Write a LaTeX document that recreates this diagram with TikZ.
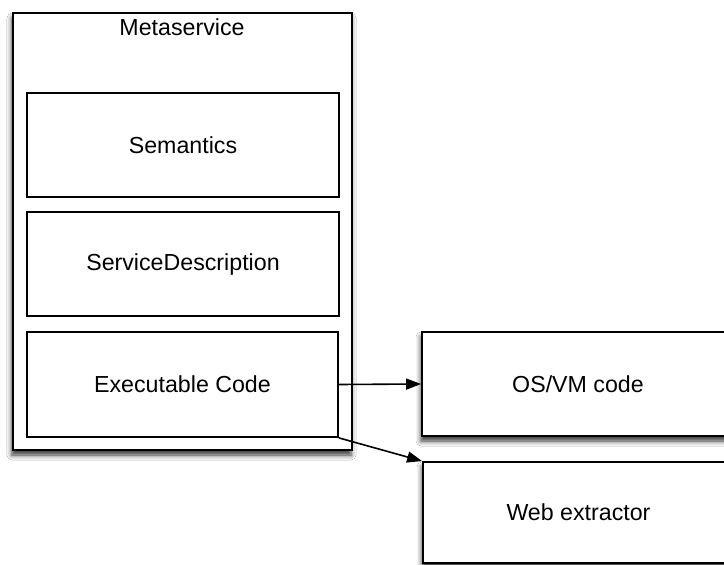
\documentclass[tikz,border=0pt]{standalone}
\usepackage{fontspec}
\setmainfont{Liberation Sans}
\usetikzlibrary{shadows.blur,arrows.meta}
\tikzset{
  box/.style={draw=black, line width=1.8pt, fill=white, rectangle, inner sep=0pt,
    font=\fontsize{23.2}{27}\selectfont},
  shadowbox/.style={box, blur shadow={shadow xshift=-1pt, shadow yshift=-5pt, shadow blur radius=5pt, shadow opacity=80}},
  lbl/.style={inner sep=0pt, font=\fontsize{23.2}{27}\selectfont},
  arrow/.style={draw=black, line width=1.6pt, -{Triangle[length=15pt,width=11pt]}, shorten >=0pt}
}
\begin{document}
\begin{tikzpicture}[x=1pt,y=-1pt]
\clip (0,0) rectangle (724,565);
\fill[white] (0,0) rectangle (724,565);
\node[shadowbox, minimum width=339pt, minimum height=437pt] (meta) at (182.5,231.5) {};
\node[lbl] (metalabel) at (182,27) {Metaservice};
\node[box, minimum width=312pt, minimum height=104pt] (sem) at (183,145) {Semantics};
\node[box, minimum width=312pt, minimum height=104pt] (sd) at (183,264) {ServiceDescription};
\node[box, minimum width=311pt, minimum height=105pt] (exec) at (182.5,384.5) {Executable Code};
\node[shadowbox, minimum width=312pt, minimum height=104pt] (os) at (578,384) {OS/VM code};
\node[shadowbox, minimum width=311pt, minimum height=101pt] (web) at (578.5,512.5) {Web extractor};
\draw[arrow] (exec.east) -- (os.west);
\draw[arrow] (exec.south east) -- (web.north west);
\end{tikzpicture}
\end{document}
